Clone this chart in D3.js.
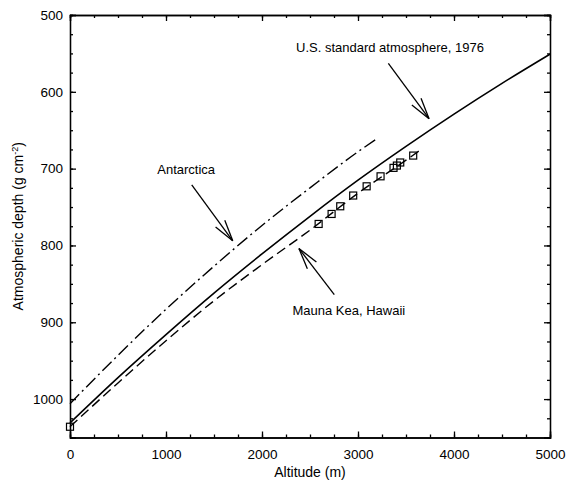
<!DOCTYPE html>
<html>
<head>
<meta charset="utf-8">
<script src="https://cdn.jsdelivr.net/npm/d3@7/dist/d3.min.js"></script>
<style>
  body { margin: 0; background: #fff; }
  svg { font-family: "Liberation Sans", Arial, Helvetica, sans-serif; }
  .axis path, .axis line { stroke: #000; stroke-width: 1.3; }
  .axis text { font-size: 13.5px; fill: #000; }
</style>
</head>
<body>
<svg id="chart" width="566" height="488"></svg>
<script>
// altitude grid (m) for the model curves
var stdAltitudes = [0, 500, 1000, 1500, 2000, 2500, 3000, 3500, 4000, 4500, 5000];
var stdDepth = [1031, 972, 916, 862, 811, 762, 715, 671, 629, 589, 551];

var antarcticaAltitudes = [0, 500, 1000, 1500, 2000, 2500, 3000, 3210];
var antarcticaDepth = [1006, 943, 883, 827, 774, 725, 678, 660];

var maunaKeaAltitudes = [0, 500, 1000, 1500, 2000, 2500, 3000, 3500, 3670];
var maunaKeaDepth = [1036, 979, 924, 872, 825, 780, 732, 689, 674];

// measured points (open squares)
var siteAltitudes = [0, 2590, 2725, 2815, 2950, 3090, 3235, 3370, 3405, 3440, 3575];
var siteDepth = [1036, 772, 759, 749, 735, 723, 710, 699, 696, 692, 683];

var xTicks = [0, 1000, 2000, 3000, 4000, 5000];
var yTicks = [500, 600, 700, 800, 900, 1000];

var svg = d3.select('#chart');
var mLeft = 70, mRight = 550, mTop = 15, mBottom = 437.5;

var x = d3.scaleLinear().domain([0, 5000]).range([mLeft, mRight]);
var y = d3.scaleLinear().domain([500, 1050]).range([mTop, mBottom]);

function zip(xs, ys) {
  return xs.map(function(v, i) { return [v, ys[i]]; });
}

var line = d3.line()
  .x(function(d) { return x(d[0]); })
  .y(function(d) { return y(d[1]); })
  .curve(d3.curveMonotoneX);

// minor ticks on all four sides
var xMinor = d3.range(0, 5001, 250);
var yMinor = d3.range(500, 1051, 25);

svg.append('g').attr('class', 'axis').attr('transform', 'translate(0,' + mBottom + ')')
  .call(d3.axisBottom(x).tickValues(xMinor).tickFormat('').tickSize(-3));
svg.append('g').attr('class', 'axis').attr('transform', 'translate(0,' + mTop + ')')
  .call(d3.axisTop(x).tickValues(xMinor).tickFormat('').tickSize(-3));
svg.append('g').attr('class', 'axis').attr('transform', 'translate(' + mLeft + ',0)')
  .call(d3.axisLeft(y).tickValues(yMinor).tickFormat('').tickSize(-3));
svg.append('g').attr('class', 'axis').attr('transform', 'translate(' + mRight + ',0)')
  .call(d3.axisRight(y).tickValues(yMinor).tickFormat('').tickSize(-3));

// major ticks
svg.append('g').attr('class', 'axis').attr('transform', 'translate(0,' + mBottom + ')')
  .call(d3.axisBottom(x).tickValues(xTicks).tickFormat(d3.format('d')).tickSize(-6).tickPadding(12));
svg.append('g').attr('class', 'axis').attr('transform', 'translate(0,' + mTop + ')')
  .call(d3.axisTop(x).tickValues(xTicks).tickFormat('').tickSize(-6));
svg.append('g').attr('class', 'axis').attr('transform', 'translate(' + mLeft + ',0)')
  .call(d3.axisLeft(y).tickValues(yTicks).tickFormat(d3.format('d')).tickSize(-6).tickPadding(7));
svg.append('g').attr('class', 'axis').attr('transform', 'translate(' + mRight + ',0)')
  .call(d3.axisRight(y).tickValues(yTicks).tickFormat('').tickSize(-6));

svg.selectAll('.axis .domain').attr('stroke-width', 1.5);

// curves
svg.append('path')
  .datum(zip(stdAltitudes, stdDepth))
  .attr('fill', 'none').attr('stroke', '#000').attr('stroke-width', 1.6)
  .attr('d', line);

svg.append('path')
  .datum(zip(antarcticaAltitudes, antarcticaDepth))
  .attr('fill', 'none').attr('stroke', '#000').attr('stroke-width', 1.4)
  .attr('stroke-dasharray', '13,4,2,4')
  .attr('d', line);

svg.append('path')
  .datum(zip(maunaKeaAltitudes, maunaKeaDepth))
  .attr('fill', 'none').attr('stroke', '#000').attr('stroke-width', 1.4)
  .attr('stroke-dasharray', '10,5')
  .attr('d', line);

svg.selectAll('rect.site')
  .data(zip(siteAltitudes, siteDepth))
  .enter()
  .append('rect')
  .attr('class', 'site')
  .attr('x', function(d) { return x(d[0]) - 3.5; })
  .attr('y', function(d) { return y(d[1]) - 3.5; })
  .attr('width', 7).attr('height', 7)
  .attr('fill', 'none').attr('stroke', '#000').attr('stroke-width', 1.2);

// annotations: label anchor, then [tailAlt, tailDepth, tipAlt, tipDepth]
var notes = [
  { text: 'U.S. standard atmosphere, 1976', at: [3333, 548], arrow: [3316, 563, 3740, 635] },
  { text: 'Antarctica', at: [1210, 707], arrow: [1268, 721, 1695, 794] },
  { text: 'Mauna Kea, Hawaii', at: [2905, 890], arrow: [2753, 864, 2385, 804] }
];

notes.forEach(function(n) {
  svg.append('text')
    .attr('x', x(n.at[0])).attr('y', y(n.at[1]))
    .attr('text-anchor', 'middle')
    .attr('font-size', 13)
    .text(n.text);

  var x1 = x(n.arrow[0]), y1 = y(n.arrow[1]);
  var x2 = x(n.arrow[2]), y2 = y(n.arrow[3]);
  var ang = Math.atan2(y1 - y2, x1 - x2);
  var len = 22, spread = 15 * Math.PI / 180;
  var g = svg.append('g').attr('stroke', '#000').attr('stroke-width', 1.3).attr('fill', 'none');
  g.append('line').attr('x1', x1).attr('y1', y1).attr('x2', x2).attr('y2', y2);
  [-spread, spread].forEach(function(s) {
    g.append('line')
      .attr('x1', x2).attr('y1', y2)
      .attr('x2', x2 + len * Math.cos(ang + s))
      .attr('y2', y2 + len * Math.sin(ang + s));
  });
});

// axis titles
svg.append('text')
  .attr('x', (mLeft + mRight) / 2).attr('y', 477)
  .attr('text-anchor', 'middle').attr('font-size', 14)
  .text('Altitude (m)');

var yt = svg.append('text')
  .attr('transform', 'translate(23,' + (mTop + mBottom) / 2 + ') rotate(-90)')
  .attr('text-anchor', 'middle').attr('font-size', 14);
yt.append('tspan').text('Atmospheric depth (g cm');
yt.append('tspan').attr('dy', -5).attr('font-size', 9).text('-2');
yt.append('tspan').attr('dy', 5).text(')');
</script>
</body>
</html>
